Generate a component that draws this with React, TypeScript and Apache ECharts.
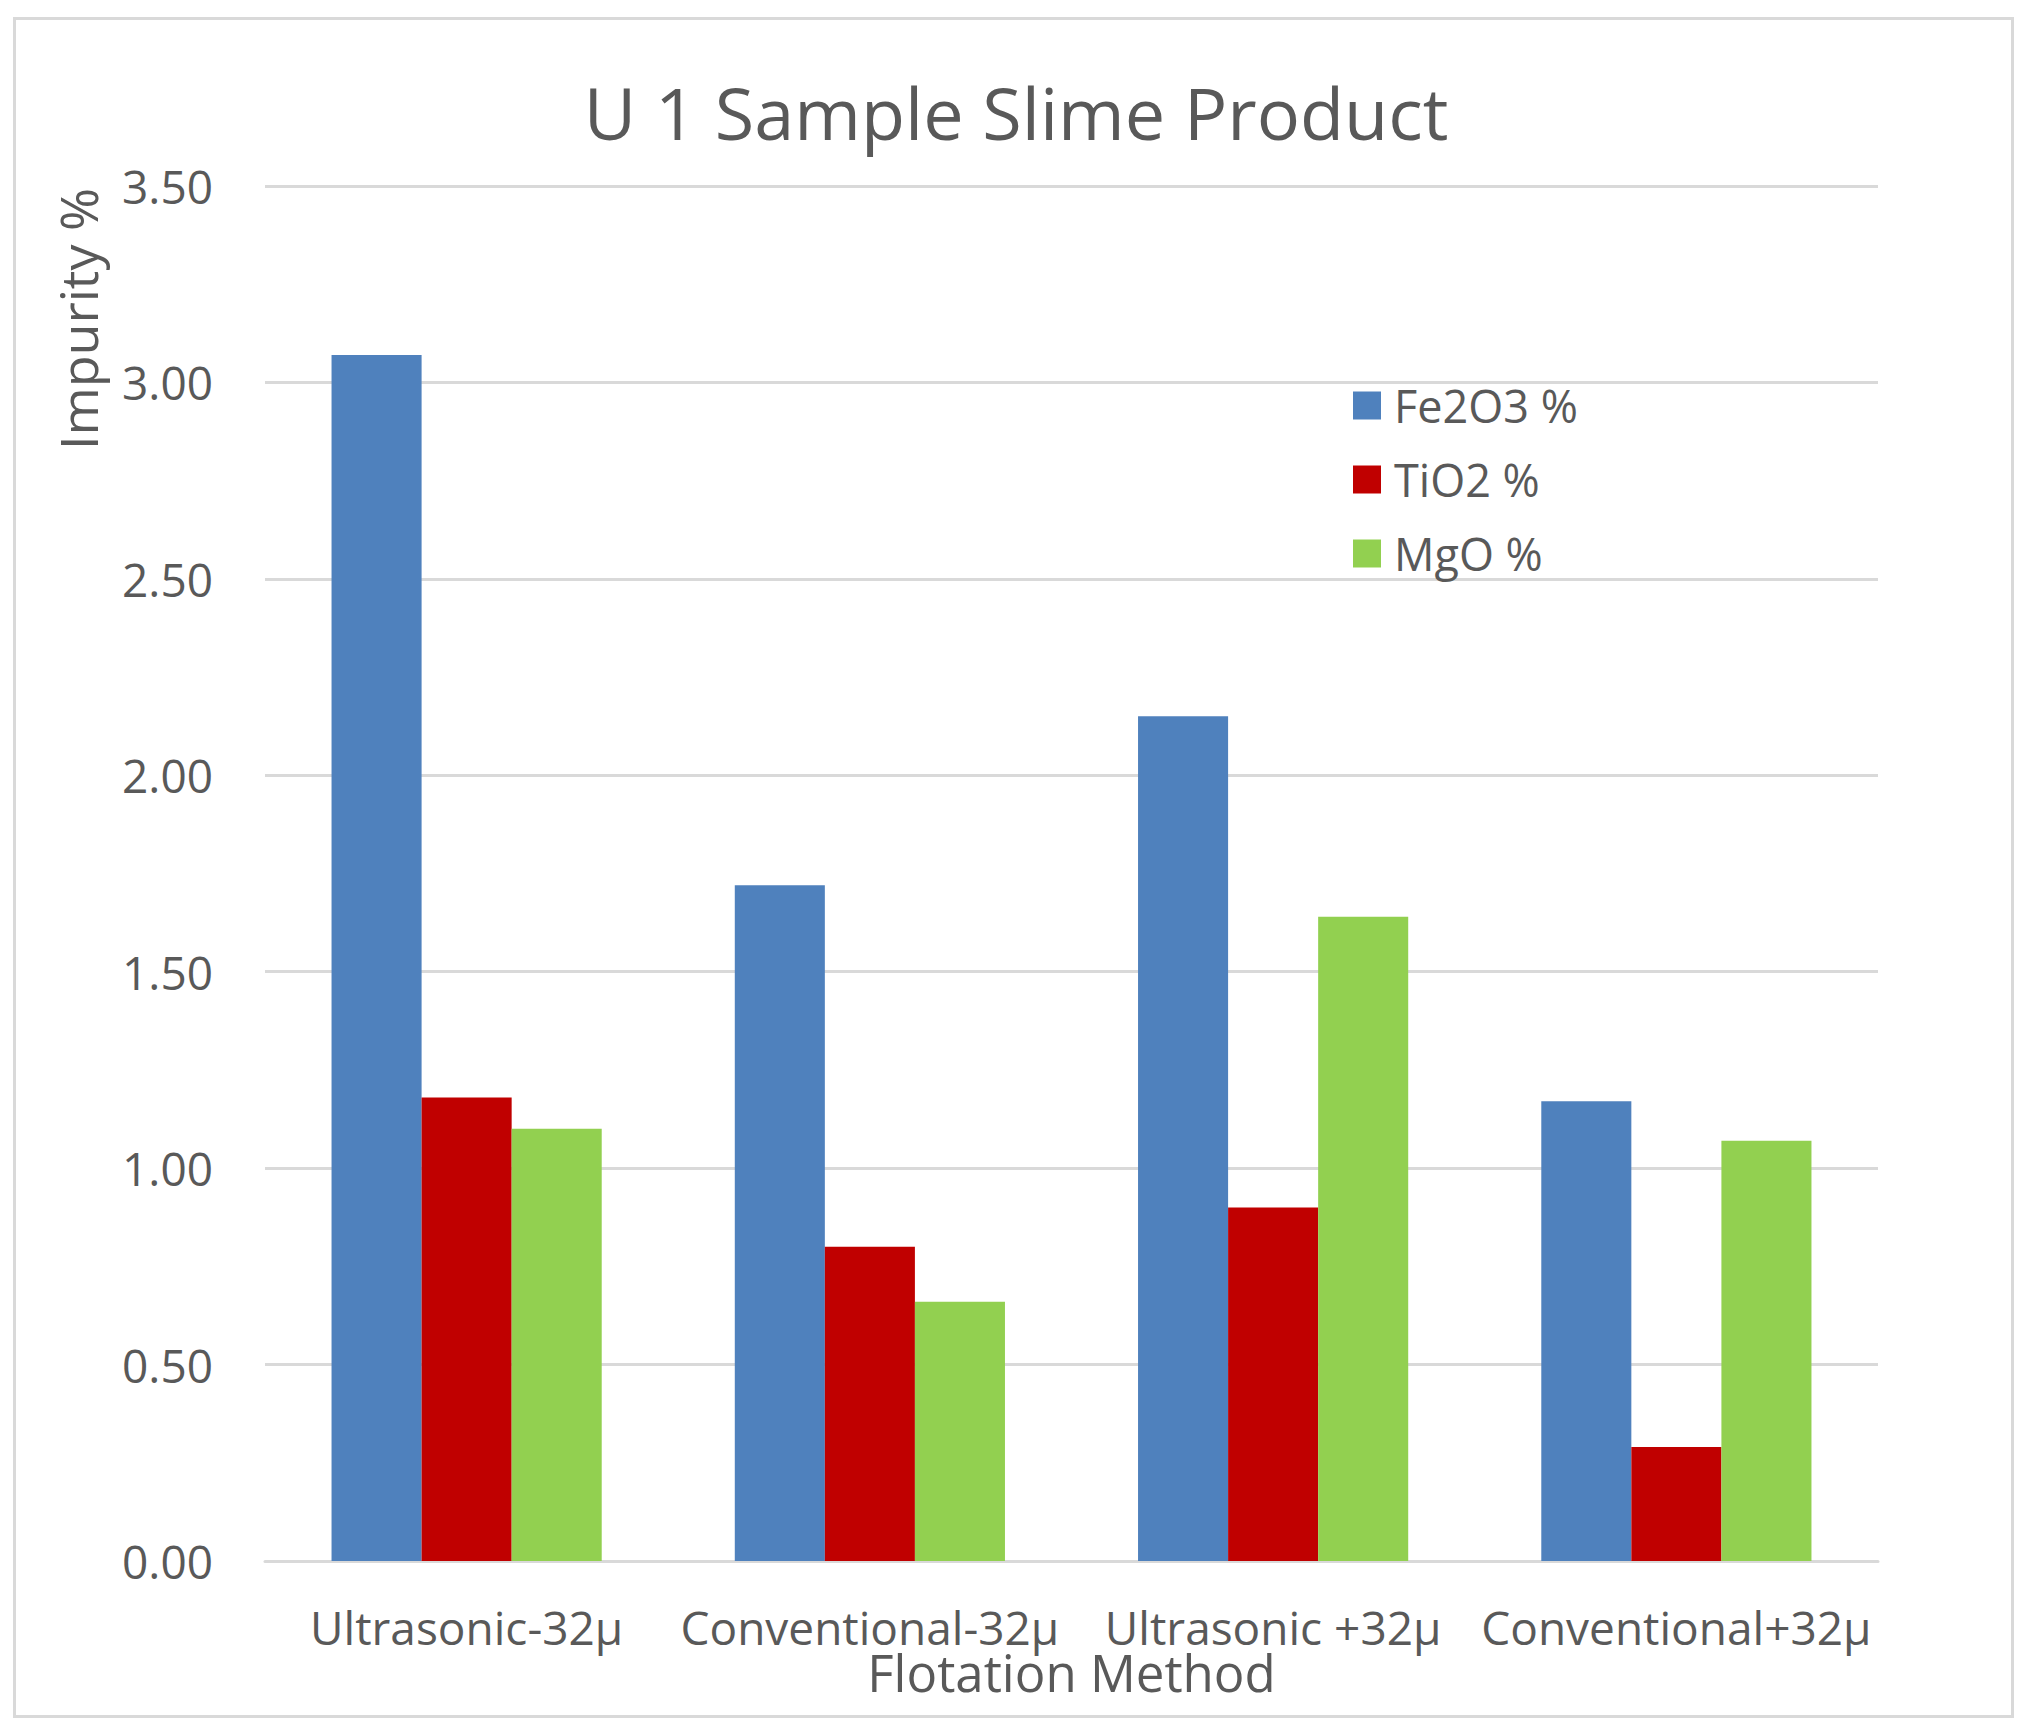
import React, { useEffect, useRef } from "react";
import * as echarts from "echarts";

const categories = ["Ultrasonic-32µ", "Conventional-32µ", "Ultrasonic +32µ", "Conventional+32µ"];
const seriesNames = ["Fe2O3 %", "TiO2 %", "MgO %"];
const fe2o3 = [3.07, 1.72, 2.15, 1.17];
const tio2 = [1.18, 0.8, 0.9, 0.29];
const mgo = [1.1, 0.66, 1.64, 1.07];
const colors = ["#4F81BD", "#C00000", "#92D050"];
const titleText = "U 1 Sample Slime Product";
const xName = "Flotation Method";
const yName = "Impurity %";

const FONT = "'Open Sans', 'Noto Sans', sans-serif";
const TEXT = "#595959";
const GRID = "#D9D9D9";

export default function App() {
  const ref = useRef<HTMLDivElement>(null);
  useEffect(() => {
    document.body.style.margin = "0";
    document.body.style.overflow = "hidden";
    const chart = echarts.init(ref.current!, null, { renderer: "svg" });
    const values = [fe2o3, tio2, mgo];
    chart.setOption({
      animation: false,
      backgroundColor: "#ffffff",
      title: {
        text: titleText,
        left: "center",
        top: 71,
        textStyle: { fontFamily: FONT, fontSize: 72, fontWeight: "normal", color: TEXT, lineHeight: 72 },
      },
      legend: {
        orient: "vertical",
        left: 1348,
        top: 378,
        itemWidth: 28,
        itemHeight: 28,
        itemGap: 29,
        icon: "rect",
        data: seriesNames,
        textStyle: { fontFamily: FONT, fontSize: 45, color: TEXT, lineHeight: 45, padding: [0, 0, 0, 8] },
      },
      grid: { left: 265, right: 154, top: 186, bottom: 174, containLabel: false },
      xAxis: {
        type: "category",
        data: categories,
        axisLine: { show: true, lineStyle: { color: GRID, width: 3 } },
        axisTick: { show: false },
        axisLabel: {
          interval: 0,
          hideOverlap: false,
          margin: 46,
          fontFamily: FONT,
          fontSize: 46,
          lineHeight: 40,
          color: TEXT,
        },
        name: xName,
        nameLocation: "middle",
        nameGap: 89,
        nameMoveOverlap: false,
        nameTextStyle: { fontFamily: FONT, fontSize: 51, lineHeight: 44, color: TEXT },
      },
      yAxis: {
        type: "value",
        min: 0,
        max: 3.5,
        interval: 0.5,
        axisLine: { show: false },
        axisTick: { show: false },
        splitLine: { show: true, lineStyle: { color: GRID, width: 3 } },
        axisLabel: {
          margin: 52,
          fontFamily: FONT,
          fontSize: 46,
          color: TEXT,
          formatter: (v: number) => v.toFixed(2),
        },
      },
      series: seriesNames.map((name, i) => ({
        name,
        type: "bar",
        data: values[i],
        barGap: "0%",
        barCategoryGap: "33%",
        itemStyle: { color: colors[i] },
      })),
      graphic: [
        {
          type: "rect",
          shape: { x: 14.5, y: 18.5, width: 1998, height: 1698 },
          style: { fill: "none", stroke: GRID, lineWidth: 3 },
          silent: true,
        },
        {
          type: "text",
          x: 77,
          y: 319,
          rotation: Math.PI / 2,
          style: {
            text: yName,
            textAlign: "center",
            textVerticalAlign: "middle",
            fontFamily: FONT,
            fontSize: 52,
            fill: TEXT,
          },
        },
      ],
    });
    return () => chart.dispose();
  }, []);
  return <div ref={ref} style={{ width: 2032, height: 1735 }} />;
}
